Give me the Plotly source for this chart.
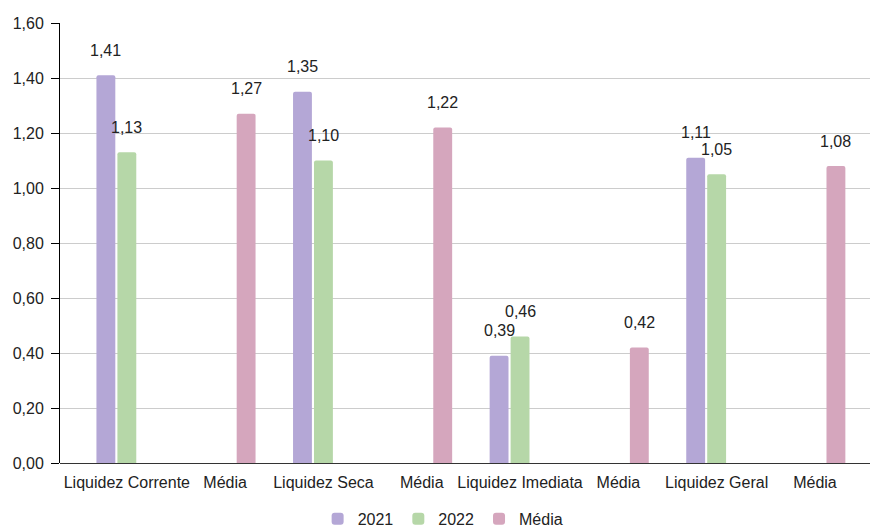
import plotly.graph_objects as go

categories = ["Liquidez Corrente", "Média", "Liquidez Seca", "Média",
              "Liquidez Imediata", "Média", "Liquidez Geral", "Média"]
series_names = ["2021", "2022", "Média"]
values_2021 = [1.41, None, 1.35, None, 0.39, None, 1.11, None]
values_2022 = [1.13, None, 1.10, None, 0.46, None, 1.05, None]
values_media = [None, 1.27, None, 1.22, None, 0.42, None, 1.08]
colors = ["#b4a7d6", "#b6d7a8", "#d5a6bd"]
y_ticks = [0, 0.2, 0.4, 0.6, 0.8, 1.0, 1.2, 1.4, 1.6]

FONT = "Liberation Sans, Arial, sans-serif"
FS = 16
bargap = 0.36
x_pos = list(range(len(categories)))
all_series = [values_2021, values_2022, values_media]

fig = go.Figure()
for name, vals, col in zip(series_names, all_series, colors):
    fig.add_trace(go.Bar(x=x_pos, y=vals, name=name, marker_color=col,
                         marker_line_width=0))

slot = (1 - bargap) / len(all_series)
annotations = []
for k, vals in enumerate(all_series):
    off = (k - (len(all_series) - 1) / 2) * slot
    for i, v in enumerate(vals):
        if v is None:
            continue
        annotations.append(dict(x=i + off, y=v, xref="x", yref="y",
                                text=f"{v:.2f}".replace(".", ","),
                                showarrow=False, yshift=25,
                                font=dict(family=FONT, size=FS, color="#222")))

fig.update_layout(
    width=870, height=527,
    margin=dict(l=60, r=0, t=23, b=64, autoexpand=False),
    paper_bgcolor="white", plot_bgcolor="white",
    barmode="group", bargap=bargap, bargroupgap=0.1, barcornerradius=2,
    separators=",.",
    font=dict(family=FONT, size=FS, color="#222"),
    showlegend=True,
    legend=dict(orientation="h", x=0.473, xanchor="center", y=-0.127, yanchor="middle",
                bgcolor="rgba(0,0,0,0)",
                font=dict(family=FONT, size=FS, color="#222"),
                itemwidth=30, traceorder="normal"),
    annotations=annotations,
)
fig.update_xaxes(range=[-0.68, 7.56], tickmode="array", tickvals=x_pos,
                 ticktext=categories, showgrid=False, showline=False,
                 ticks="", ticklabelstandoff=8, automargin=False,
                 tickfont=dict(family=FONT, size=FS, color="#222"))
fig.update_yaxes(range=[0, 1.6], tickmode="array", tickvals=y_ticks,
                 tickformat=".2f", showgrid=True, gridcolor="#cccccc", gridwidth=1,
                 showline=True, linecolor="#000", linewidth=1,
                 ticks="outside", ticklen=8, tickcolor="#000", automargin=False,
                 ticklabelstandoff=4,
                 zeroline=True, zerolinecolor="#333", zerolinewidth=1,
                 tickfont=dict(family=FONT, size=FS, color="#222"))

fig.write_html("out.html")
